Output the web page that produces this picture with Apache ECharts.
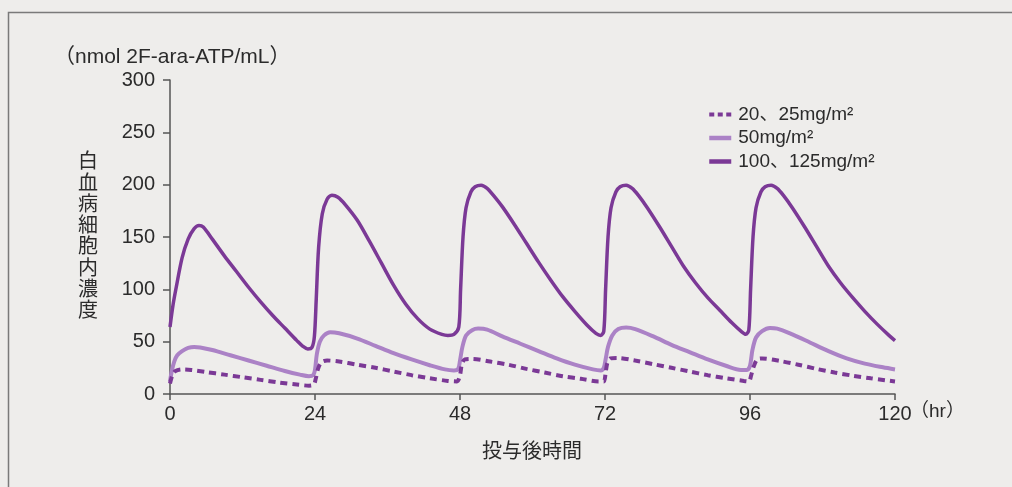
<!DOCTYPE html>
<html>
<head>
<meta charset="utf-8">
<script src="https://cdn.jsdelivr.net/npm/echarts@6/dist/echarts.min.js"></script>
<style>
  html, body { margin: 0; padding: 0; background: #eeedeb; }
  #chart { width: 1012px; height: 487px; }
</style>
</head>
<body>
<div id="chart"></div>
<script>
// Intracellular 2F-ara-ATP concentration in leukemia cells over 5 daily doses
const xTicks = [0, 24, 48, 72, 96, 120];
const yTicks = [0, 50, 100, 150, 200, 250, 300];

const seriesNames = ['20、25mg/m²', '50mg/m²', '100、125mg/m²'];

// 20, 25 mg/m2
const hoursLow = [0, 0.4, 0.9, 2, 3.5, 6, 9, 12, 15, 18, 21, 23, 23.8, 24.1, 24.5, 25, 26, 28, 31, 34, 37, 40, 43, 46, 47.5,
  48, 48.3, 48.8, 50, 53, 56, 59, 62, 65, 68, 71, 71.8, 72.1, 72.4, 72.9, 74, 77, 80, 83, 86, 89, 92, 95, 95.8,
  96.2, 96.6, 97.2, 98, 101, 104, 107, 110, 113, 116, 120];
const concLow = [10, 18, 22, 23.5, 23, 21, 18.5, 16, 13.5, 11, 9, 8, 9, 14, 24, 30, 32, 31, 28, 25, 21.5, 18, 15, 12.5, 12,
  18, 28, 33, 33.5, 31, 28, 24, 20.5, 17, 14.5, 12, 12, 20, 30, 34, 34.5, 32, 28.5, 25, 21.5, 18, 15, 12.5, 12,
  18, 26, 33, 34, 31.5, 28, 24, 20.5, 17.5, 15, 12];

// 50 mg/m2
const hoursMid = [0, 0.3, 0.7, 1.2, 2, 3, 4, 5, 7, 10, 13, 16, 19, 21.5, 23, 23.7, 24, 24.3, 24.8, 25.5, 26.5, 28, 31, 34, 37,
  40, 43, 45.5, 47, 47.7, 48, 48.4, 49, 50, 51, 52.5, 55, 58, 61, 64, 67, 70, 71.3, 71.8, 72.1, 72.5, 73.2, 74.2,
  75.5, 77, 80, 83, 86, 89, 92, 94.5, 95.5, 96, 96.4, 97, 98, 99.3, 100.5, 103, 106, 109, 112, 115, 118, 120];
const concMid = [12, 22, 31, 37, 41, 44, 45, 44.5, 42, 37, 32, 27, 22, 18.5, 17, 18, 23, 38, 50, 56, 59, 58, 53, 46, 39,
  33, 27.5, 23.5, 22.5, 24, 32, 45, 56, 61, 62.5, 61.5, 55, 48, 41, 34, 28, 23.5, 22.5, 25, 33, 45, 56, 62,
  63.5, 62, 55, 47, 40, 33, 27, 23, 23, 27, 42, 54, 60, 63, 62.5, 57, 49, 41, 34, 29, 25.5, 23.5];

// 100, 125 mg/m2
const hoursHigh = [0, 0.5, 1, 2, 3, 4, 4.8, 5.5, 7, 9, 11, 13, 15, 17, 19, 21, 22, 22.8, 23.5, 23.9, 24.2, 24.6, 25.2, 26, 26.8,
  27.8, 29, 31, 33, 35, 37, 39, 41, 43, 45, 46, 47, 47.8, 48.1, 48.5, 49, 49.8, 50.5, 51.5, 52.5, 53.5, 55, 57, 59, 61, 63,
  65, 67, 69, 70.5, 71.3, 71.8, 72.1, 72.5, 73, 73.8, 74.5, 75.5, 76.5, 77.5, 79, 81, 83, 85, 87, 89, 91, 93, 94.5, 95.3,
  95.8, 96.1, 96.5, 97, 97.8, 98.5, 99.5, 100.5, 101.5, 103, 105, 107, 109, 111, 113, 115, 117, 119, 120];
const concHigh = [64, 85, 101, 130, 148, 158, 161, 159.5, 148, 132, 117, 102, 88, 75, 63, 51, 45.5, 43, 44.5, 55, 90, 140, 172, 186, 190,
  188, 181, 166, 146, 125, 104, 86, 72, 62, 57, 56, 57, 64, 100, 150, 178, 193, 198, 199.5, 196.5, 190, 179, 162, 144, 126, 109,
  93, 79, 66, 58, 56, 60, 100, 150, 178, 193, 198, 199.5, 196.5, 190, 178, 160, 141, 122, 106, 92, 80, 68, 60, 57,
  61, 100, 150, 178, 193, 198, 199.5, 196.5, 190, 178, 160, 141, 122, 106, 92, 79, 67, 56, 51];

const pair = (xs, ys) => xs.map((x, i) => [x, ys[i]]);

const FONT = '"Liberation Sans", "Noto Sans CJK JP", sans-serif';
const JP_FONT = '"Noto Sans CJK JP", sans-serif';
const DARK = '#7b3996';
const LIGHT = '#ab82c6';
const AXIS = '#555';
const TEXT = '#2b2b2b';

const lineSeries = (name, data, style, z) => ({
  name,
  type: 'line',
  data,
  showSymbol: false,
  symbol: 'none',
  smooth: 0.3,
  lineStyle: style,
  itemStyle: { color: style.color },
  z
});

const chart = echarts.init(document.getElementById('chart'), null, { renderer: 'canvas' });

chart.setOption({
  backgroundColor: '#eeedeb',
  animation: false,
  textStyle: { fontFamily: FONT },
  grid: { left: 170, right: 117, top: 80, bottom: 93 },
  xAxis: {
    type: 'value',
    min: xTicks[0],
    max: xTicks[xTicks.length - 1],
    interval: 24,
    axisLine: { lineStyle: { color: AXIS, width: 1.5 } },
    axisTick: { show: true, inside: false, length: 6, lineStyle: { color: AXIS, width: 1.5 } },
    axisLabel: { color: TEXT, fontSize: 20, margin: 10, fontFamily: FONT },
    splitLine: { show: false }
  },
  yAxis: {
    type: 'value',
    min: yTicks[0],
    max: yTicks[yTicks.length - 1],
    interval: 50,
    axisLine: { show: true, lineStyle: { color: AXIS, width: 1.5 } },
    axisTick: { show: true, inside: false, length: 7, lineStyle: { color: AXIS, width: 1.5 } },
    axisLabel: { color: TEXT, fontSize: 20, margin: 15, fontFamily: FONT },
    splitLine: { show: false }
  },
  legend: {
    orient: 'vertical',
    left: 702,
    top: 100,
    itemWidth: 22,
    itemHeight: 14,
    itemGap: 4.5,
    data: [
      { name: seriesNames[0], lineStyle: { width: 4, type: [5, 3.5], cap: 'butt' } },
      { name: seriesNames[1], lineStyle: { width: 4.5 } },
      { name: seriesNames[2], lineStyle: { width: 4.5 } }
    ],
    itemStyle: { opacity: 0, borderWidth: 0 },
    textStyle: { color: TEXT, fontSize: 19, fontFamily: FONT, padding: [0, 0, 0, 2] }
  },
  series: [
    lineSeries(seriesNames[0], pair(hoursLow, concLow),
      { color: DARK, width: 4, type: [7, 5], cap: 'butt' }, 3),
    lineSeries(seriesNames[1], pair(hoursMid, concMid),
      { color: LIGHT, width: 4 }, 2),
    lineSeries(seriesNames[2], pair(hoursHigh, concHigh),
      { color: DARK, width: 3.5 }, 4)
  ],
  graphic: [
    {
      type: 'rect',
      shape: { x: 8.5, y: 12.5, width: 1200, height: 600 },
      style: { fill: 'none', stroke: '#7a7a7a', lineWidth: 1.5 },
      silent: true
    },
    {
      type: 'text',
      left: 54,
      top: 47,
      style: { text: '（nmol 2F-ara-ATP/mL）', fontSize: 21, fill: TEXT, fontFamily: FONT }
    },
    {
      type: 'text',
      left: 78,
      top: 150,
      style: {
        text: '白\n血\n病\n細\n胞\n内\n濃\n度',
        fontSize: 20, lineHeight: 21.3, fill: TEXT, fontFamily: JP_FONT
      }
    },
    {
      type: 'text',
      left: 910,
      top: 402,
      style: { text: '（hr）', fontSize: 19, fill: TEXT, fontFamily: FONT }
    },
    {
      type: 'text',
      left: 482,
      top: 440,
      style: { text: '投与後時間', fontSize: 20, fill: TEXT, fontFamily: JP_FONT }
    }
  ]
});
</script>
</body>
</html>
